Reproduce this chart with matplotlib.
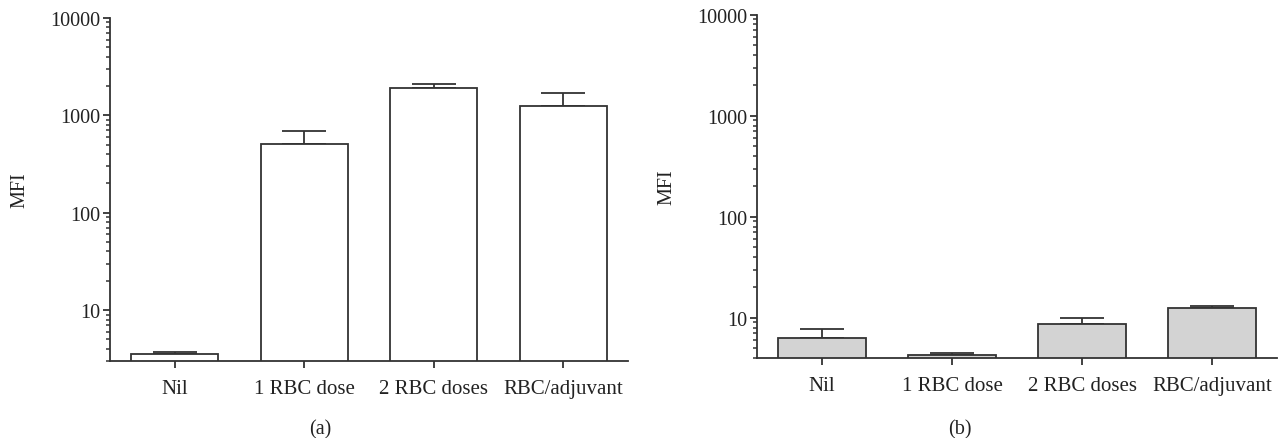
import numpy as np
import matplotlib
matplotlib.use("Agg")
import matplotlib.pyplot as plt
from matplotlib.ticker import LogLocator, NullFormatter, FixedLocator, FixedFormatter

plt.rcParams['font.family'] = ['Liberation Serif', 'DejaVu Serif']

groups = ["Nil", "1 RBC dose", "2 RBC doses", "RBC/adjuvant"]

# panel (a): MFI means and upper error ends
mfi_a = [3.57, 511, 1911, 1247]
top_a = [3.7, 689, 2090, 1715]

# panel (b)
mfi_b = [6.24, 4.3, 8.65, 12.4]
top_b = [7.78, 4.5, 9.9, 13.0]

W, H = 1279, 439
fig = plt.figure(figsize=(W / 100, H / 100), dpi=100)

ink = "#333333"
txt = "#222222"


def panel(rect, vals, tops, fill, ymin, caption, cx):
    ax = fig.add_axes(rect)
    x = np.arange(len(groups))
    vals = np.array(vals)
    tops = np.array(tops)
    ax.bar(x, vals, width=0.67, color=fill, edgecolor=ink, linewidth=1.3, zorder=2)
    ax.errorbar(x, vals, yerr=[np.zeros_like(vals), tops - vals], fmt='none',
                ecolor=ink, elinewidth=1.3, capsize=15.5, capthick=1.3, zorder=1)
    ax.set_yscale('log')
    ax.set_ylim(ymin, 10000)
    ax.set_xlim(-0.5, 3.5)
    ax.yaxis.set_major_locator(FixedLocator([10, 100, 1000, 10000]))
    ax.yaxis.set_major_formatter(FixedFormatter(["10", "100", "1000", "10000"]))
    ax.yaxis.set_minor_locator(LogLocator(base=10, subs=np.arange(2, 10)))
    ax.yaxis.set_minor_formatter(NullFormatter())
    ax.set_xticks(x)
    ax.set_xticklabels(groups, fontsize=15)
    for s in ['top', 'right']:
        ax.spines[s].set_visible(False)
    for s in ['left', 'bottom']:
        ax.spines[s].set_linewidth(1.3)
        ax.spines[s].set_color(ink)
    ax.tick_params(axis='both', which='major', direction='out', length=5, width=1.3,
                   color=ink, labelcolor=txt)
    ax.tick_params(axis='y', which='major', labelsize=14.5, pad=2)
    ax.tick_params(axis='y', which='minor', direction='out', length=3, width=1.1, color=ink)
    ax.tick_params(axis='x', pad=8)
    ax.set_ylabel("MFI", fontsize=14.5, color=txt, labelpad=15)
    fig.text(cx, 1 - 430 / H, caption, ha='center', va='center', fontsize=14.5, color=txt)
    return ax


panel([110 / W, 1 - 362 / H, 518 / W, 343 / H], mfi_a, top_a, 'white', 3, "(a)", 320 / W)
panel([757 / W, 1 - 359 / H, 520 / W, 343.3 / H], mfi_b, top_b, '#d3d3d3', 4, "(b)", 960 / W)

fig.savefig("out.png", dpi=100)
